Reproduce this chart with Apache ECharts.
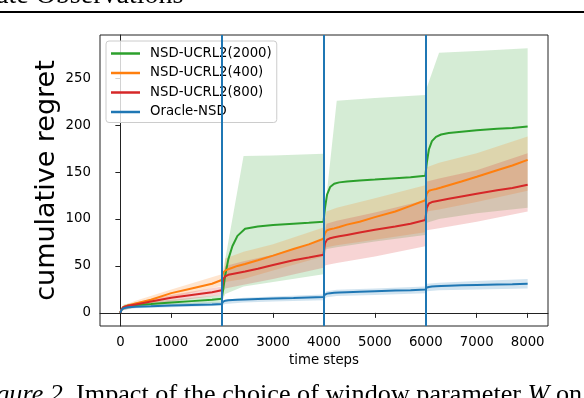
<!DOCTYPE html>
<html>
<head>
<meta charset="utf-8">
<script src="https://cdn.jsdelivr.net/npm/echarts@6/dist/echarts.min.js"></script>
<style>
  html, body { margin: 0; padding: 0; background: #fff; }
  #chart { width: 584px; height: 398px; }
</style>
</head>
<body>
<div id="chart"></div>
<script>
// time steps for the mean curves
var steps = [0, 20, 60, 150, 300, 600, 1000, 1400, 1800, 1990,
  2000, 2020, 2060, 2120, 2200, 2300, 2450, 2700, 3000, 3400, 3700, 3990,
  4000, 4020, 4060, 4120, 4200, 4300, 4450, 4700, 5000, 5400, 5700, 5990,
  6000, 6020, 6060, 6120, 6200, 6300, 6450, 6700, 7000, 7400, 7700, 8000];

var green = [0, 3.5, 6, 7.5, 8.5, 9.5, 11, 12.5, 14, 15,
  15, 25, 40, 57, 71, 82, 89.5, 92, 93.5, 95, 96, 97,
  97, 112, 126, 134, 137.5, 139, 140, 141, 142, 143.5, 144.5, 146,
  146, 160, 174, 183, 187.5, 190, 191.5, 193, 194.5, 196, 197, 198.5];
var orange = [0, 3.5, 6, 8, 10, 14, 21, 26, 31, 35,
  38, 43, 45, 46.5, 48, 50, 52, 56, 61, 68, 73, 79,
  80, 85, 88, 89, 90, 91.5, 94, 97, 102, 108, 114, 120,
  121, 127, 130, 131, 132, 133.5, 136, 140, 145, 152, 157, 163];
var red = [0, 3.5, 6, 7.5, 9, 12, 16, 19, 22, 24,
  28, 36, 39, 40.5, 41.5, 42.5, 44, 47, 51, 56, 59, 62,
  62, 74, 78, 79.5, 80.5, 81.5, 83, 85.5, 88.5, 92, 95, 99,
  99, 112, 116.5, 118, 119, 120, 121.5, 124, 127, 130.5, 133, 136.5];
var blue = [0, 3, 5, 6, 6.5, 7, 7.8, 8.5, 9, 9.5,
  9.5, 12, 13, 13.5, 13.8, 14, 14.3, 14.7, 15.2, 15.8, 16.3, 16.8,
  17, 19.5, 20.5, 21, 21.3, 21.6, 22, 22.5, 23, 23.7, 24.2, 24.8,
  25, 27, 27.5, 28, 28.3, 28.6, 29, 29.4, 29.8, 30.3, 30.6, 31];

// time steps for the shaded bands
var bandSteps = [0, 60, 300, 1000, 1990, 2000, 2060, 2420, 3000, 3990,
  4000, 4050, 4250, 5000, 5990, 6000, 6020, 6260, 7000, 8000];

var greenHi = [0, 9, 11, 14, 19, 18, 57, 167, 167.5, 169.5, 100, 125, 226, 229, 232, 225, 240, 277, 279, 282];
var greenLo = [0, 3, 6, 8, 11, 12, 20, 28, 33, 41, 60, 68, 70, 76, 83, 88, 96, 100, 106, 112];
var orangeHi = [0, 8, 13, 25, 41, 42, 58, 65, 73, 91, 95, 108, 112, 122, 136, 140, 155, 160, 170, 188];
var orangeLo = [0, 3, 7, 16, 29, 30, 33, 36, 45, 60, 66, 70, 72, 78, 86, 100, 108, 110, 118, 130];
var redHi = [0, 7, 11, 19, 28, 30, 50, 55, 62, 78, 82, 95, 98, 107, 120, 122, 140, 143, 152, 170];
var redLo = [0, 3, 6, 12, 19, 20, 26, 30, 36, 48, 50, 51, 53, 60, 71, 86, 88, 90, 97, 108];
var blueHi = [0, 6, 8, 10, 11.5, 12, 14, 16, 17.5, 19.5, 20, 23, 24.5, 26, 28, 28.5, 31, 32, 34, 36];
var blueLo = [0, 3, 5, 6, 7.5, 8, 9.5, 11, 12, 13.5, 14, 16.5, 18, 19, 21, 21.5, 23, 24, 25, 26];

var changePoints = [2000, 4000, 6000];
var xTicks = [0, 1000, 2000, 3000, 4000, 5000, 6000, 7000, 8000];
var yTicks = [0, 50, 100, 150, 200, 250];

var names = ['NSD-UCRL2(2000)', 'NSD-UCRL2(400)', 'NSD-UCRL2(800)', 'Oracle-NSD'];
var colors = ['#2ca02c', '#ff7f0e', '#d62728', '#1f77b4'];
var means = [green, orange, red, blue];
var his = [greenHi, orangeHi, redHi, blueHi];
var los = [greenLo, orangeLo, redLo, blueLo];

var font = 'DejaVu Sans';

function bandSeries(lo, hi, color) {
  return {
    type: 'custom',
    silent: true,
    z: 1,
    clip: true,
    data: bandSteps.map(function (t, i) { return [t, lo[i], hi[i]]; }),
    encode: { x: 0, y: [1, 2] },
    renderItem: function (params, api) {
      if (params.dataIndex !== 0) return;
      var pts = [];
      for (var i = 0; i < bandSteps.length; i++) pts.push(api.coord([bandSteps[i], hi[i]]));
      for (var j = bandSteps.length - 1; j >= 0; j--) pts.push(api.coord([bandSteps[j], lo[j]]));
      return {
        type: 'polygon',
        shape: { points: pts },
        style: { fill: color, opacity: 0.2 }
      };
    }
  };
}

var series = [];
for (var k = 0; k < 4; k++) {
  series.push(bandSeries(los[k], his[k], colors[k]));
}
for (var k2 = 0; k2 < 4; k2++) {
  series.push({
    name: names[k2],
    type: 'line',
    z: 3,
    symbol: 'none',
    data: steps.map(function (t, i) { return [t, means[k2][i]]; }),
    lineStyle: { color: colors[k2], width: 2 },
    itemStyle: { color: colors[k2] }
  });
}
// vertical change-point lines
series.push({
  type: 'line',
  z: 5,
  data: [],
  markLine: {
    silent: true,
    symbol: 'none',
    label: { show: false },
    lineStyle: { color: '#1f77b4', width: 2, type: 'solid' },
    data: changePoints.map(function (c) { return { xAxis: c }; })
  }
});

var chart = echarts.init(document.getElementById('chart'));
chart.setOption({
  animation: false,
  backgroundColor: '#fff',
  grid: { left: 100, right: 36, top: 35, bottom: 72, show: true, borderColor: '#222', borderWidth: 1 },
  legend: {
    data: names,
    orient: 'vertical',
    left: 106,
    top: 41,
    icon: 'rect',
    itemWidth: 29,
    itemHeight: 2.5,
    itemGap: 4.5,
    padding: [5, 5, 3, 5],
    backgroundColor: 'rgba(255,255,255,0.8)',
    borderColor: '#ccc',
    borderWidth: 1,
    borderRadius: 3,
    textStyle: { fontFamily: font, fontSize: 13.3, color: '#000', padding: [0, 0, 0, 5], lineHeight: 15 }
  },
  xAxis: {
    type: 'value',
    min: -400,
    max: 8400,
    name: 'time steps',
    nameLocation: 'middle',
    nameGap: 27,
    nameTextStyle: { fontFamily: font, fontSize: 13.3, color: '#000' },
    splitLine: { show: false },
    axisLine: { show: true, lineStyle: { color: '#222' } },
    axisTick: { show: true, length: 5, lineStyle: { color: '#222' }, customValues: xTicks },
    axisLabel: {
      fontFamily: font, fontSize: 13.3, color: '#000', margin: 10, customValues: xTicks,
      formatter: function (v) { return String(v); }
    }
  },
  yAxis: {
    type: 'value',
    min: -14,
    max: 296,
    name: 'cumulative regret',
    nameLocation: 'middle',
    nameGap: 40,
    nameMoveOverlap: false,
    nameTextStyle: { fontFamily: font, fontSize: 27, color: '#000' },
    splitLine: { show: false },
    axisLine: { show: true, lineStyle: { color: '#222' } },
    axisTick: { show: true, length: 5, lineStyle: { color: '#222' }, customValues: yTicks },
    axisLabel: {
      fontFamily: font, fontSize: 13.3, color: '#000', margin: 9, customValues: yTicks,
      formatter: function (v) { return String(v); }
    }
  },
  graphic: [
    {
      type: 'text',
      silent: true,
      style: { x: -4, y: 10, text: 'ate Observations', font: '28px "Liberation Serif"', fill: '#000', verticalAlign: 'bottom' }
    },
    {
      type: 'line',
      silent: true,
      shape: { x1: 0, y1: 12, x2: 584, y2: 12 },
      style: { stroke: '#000', lineWidth: 2 }
    },
    {
      type: 'text',
      silent: true,
      style: {
        x: -27, y: 395,
        text: '{i|Figure 2.} Impact of the choice of window parameter {i|W} on',
        font: '26.2px "Liberation Serif"',
        fill: '#000',
        verticalAlign: 'middle',
        rich: { i: { fontStyle: 'italic', fontFamily: 'Liberation Serif', fontSize: 26.2 } }
      }
    }
  ],
  series: series
});
window.onresize = chart.resize;
</script>
</body>
</html>
